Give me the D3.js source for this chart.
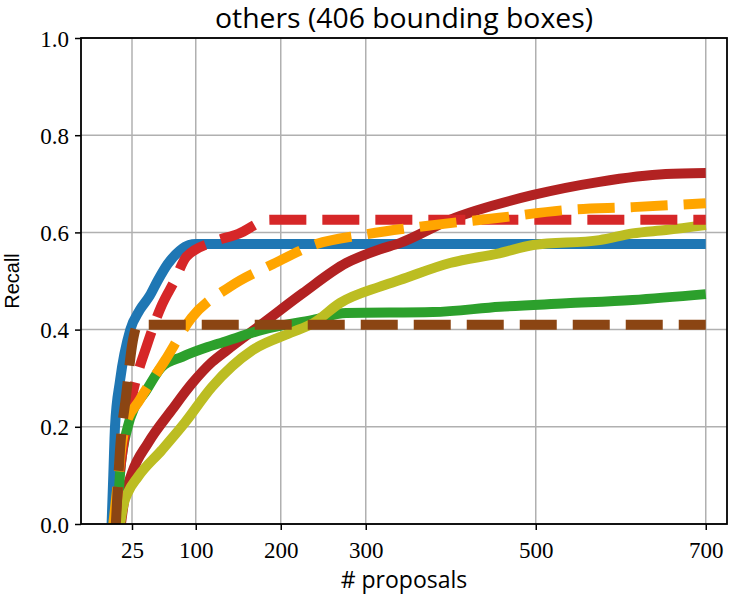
<!DOCTYPE html>
<html>
<head>
<meta charset="utf-8">
<script src="https://cdn.jsdelivr.net/npm/d3@7"></script>
<style>
  body { margin: 0; background: #fff; }
  .tick-label { font-family: "Liberation Serif", serif; font-size: 23px; fill: #000; }
  .label { font-family: "Open Sans", "Liberation Sans", sans-serif; fill: #000; }
</style>
</head>
<body>
<svg id="chart" width="734" height="596"></svg>
<script>
// tick values
let xTicks = [25, 100, 200, 300, 500, 700];
let yTicks = [0, 0.2, 0.4, 0.6, 0.8, 1.0];

// series
let blueX = [1, 3, 5, 11, 23, 34, 46, 55, 67, 81, 92, 100, 700];
let blueY = [0, 0.1, 0.2, 0.296, 0.4, 0.44, 0.47, 0.5, 0.535, 0.562, 0.574, 0.576, 0.576];

let redX = [5, 9, 14, 25, 43, 60, 75, 89, 120, 150, 187, 700];
let redY = [0, 0.08, 0.152, 0.262, 0.37, 0.45, 0.5, 0.55, 0.58, 0.597, 0.626, 0.626];

let orangeX = [3, 8, 12, 17, 34, 64, 95, 140, 191, 242, 297, 379, 457, 535, 614, 700];
let orangeY = [0, 0.08, 0.15, 0.2, 0.255, 0.337, 0.424, 0.488, 0.535, 0.576, 0.595, 0.615, 0.63, 0.646, 0.652, 0.66];

let brickX = [12, 16, 25, 44, 72, 96, 119, 137, 179, 226, 277, 316, 340, 399, 497, 575, 653, 700];
let brickY = [0, 0.05, 0.105, 0.167, 0.235, 0.29, 0.333, 0.358, 0.413, 0.475, 0.537, 0.565, 0.578, 0.626, 0.677, 0.704, 0.72, 0.722];

let greenX = [6, 9, 11, 20, 28, 40, 60, 84, 114, 132, 179, 238, 277, 379, 458, 536, 614, 700];
let greenY = [0, 0.05, 0.105, 0.2, 0.24, 0.27, 0.323, 0.344, 0.364, 0.374, 0.4, 0.42, 0.434, 0.436, 0.447, 0.454, 0.461, 0.473];

let oliveX = [11, 15, 20, 32, 60, 87, 119, 167, 211, 238, 270, 316, 340, 399, 457, 497, 575, 614, 653, 700];
let oliveY = [0, 0.04, 0.064, 0.097, 0.152, 0.208, 0.282, 0.358, 0.393, 0.413, 0.455, 0.488, 0.502, 0.537, 0.557, 0.574, 0.584, 0.598, 0.605, 0.615];

let brownX = [6, 11, 18, 26, 32, 700];
let brownY = [0, 0.155, 0.263, 0.377, 0.41, 0.41];

let series = [
  { x: blueX, y: blueY, color: "#1f77b4", dashed: false },
  { x: brickX, y: brickY, color: "#b22222", dashed: false },
  { x: greenX, y: greenY, color: "#2ca02c", dashed: false },
  { x: oliveX, y: oliveY, color: "#bcbd22", dashed: false },
  { x: redX, y: redY, color: "#d62728", dashed: true },
  { x: orangeX, y: orangeY, color: "#ffa500", dashed: true },
  { x: brownX, y: brownY, color: "#8b4513", dashed: true }
];

let svg = d3.select("#chart");
let plotLeft = 81, plotRight = 727, plotTop = 38, plotBottom = 524;

let x = d3.scaleLinear().domain([-35, 725]).range([plotLeft, plotRight]);
let y = d3.scaleLinear().domain([0, 1]).range([plotBottom, plotTop]);

// grid
svg.append("g").
selectAll("line").
data(xTicks).
enter().
append("line").
attr("x1", d => x(d)).
attr("x2", d => x(d)).
attr("y1", plotTop).
attr("y2", plotBottom).
attr("stroke", "#b0b0b0").
attr("stroke-width", 1.5);

svg.append("g").
selectAll("line").
data(yTicks).
enter().
append("line").
attr("x1", plotLeft).
attr("x2", plotRight).
attr("y1", d => y(d)).
attr("y2", d => y(d)).
attr("stroke", "#b0b0b0").
attr("stroke-width", 1.5);

// curves
let clip = svg.append("clipPath").attr("id", "plot-clip");
clip.append("rect").
attr("x", plotLeft).
attr("y", plotTop).
attr("width", plotRight - plotLeft).
attr("height", plotBottom - plotTop);

let line = d3.line().
curve(d3.curveMonotoneX).
x(d => x(d[0])).
y(d => y(d[1]));

svg.append("g").
attr("clip-path", "url(#plot-clip)").
selectAll("path").
data(series).
enter().
append("path").
attr("d", s => line(s.x.map((v, i) => [v, s.y[i]]))).
attr("fill", "none").
attr("stroke", s => s.color).
attr("stroke-width", 10).
attr("stroke-linejoin", "round").
attr("stroke-dasharray", s => s.dashed ? "37,16" : null);

// axes
let xAxis = svg.append("g").
attr("transform", `translate(0,${plotBottom})`).
call(d3.axisBottom(x).tickValues(xTicks).tickSize(6).tickSizeOuter(0).tickPadding(6));
let yAxis = svg.append("g").
attr("transform", `translate(${plotLeft},0)`).
call(d3.axisLeft(y).tickValues(yTicks).tickSize(6).tickSizeOuter(0).tickPadding(6).tickFormat(d3.format(".1f")));

[xAxis, yAxis].forEach(a => {
  a.attr("font-size", null).attr("font-family", null);
  a.select(".domain").remove();
  a.selectAll(".tick line").attr("stroke", "#000").attr("stroke-width", 1.5);
  a.selectAll(".tick text").attr("class", "tick-label");
});
xAxis.selectAll(".tick text").attr("dy", "0.95em");
yAxis.selectAll(".tick text").attr("dy", "0.35em");

// frame
svg.append("rect").
attr("x", plotLeft).
attr("y", plotTop).
attr("width", plotRight - plotLeft).
attr("height", plotBottom - plotTop).
attr("fill", "none").
attr("stroke", "#000").
attr("stroke-width", 1.8);

// labels
svg.append("text").
attr("class", "label").
attr("x", (plotLeft + plotRight) / 2).
attr("y", 28).
attr("text-anchor", "middle").
attr("font-size", 27).
attr("textLength", 378).
attr("lengthAdjust", "spacingAndGlyphs").
text("others (406 bounding boxes)");

svg.append("text").
attr("class", "label").
attr("x", (plotLeft + plotRight) / 2).
attr("y", 588).
attr("text-anchor", "middle").
attr("font-size", 23).
text("# proposals");

svg.append("text").
attr("class", "label").
attr("font-family", "Liberation Sans, sans-serif").
style("font-family", "'Liberation Sans', sans-serif").
attr("transform", `translate(19,${(plotTop + plotBottom) / 2}) rotate(-90)`).
attr("text-anchor", "middle").
attr("font-size", 20).
text("Recall");
</script>
</body>
</html>
